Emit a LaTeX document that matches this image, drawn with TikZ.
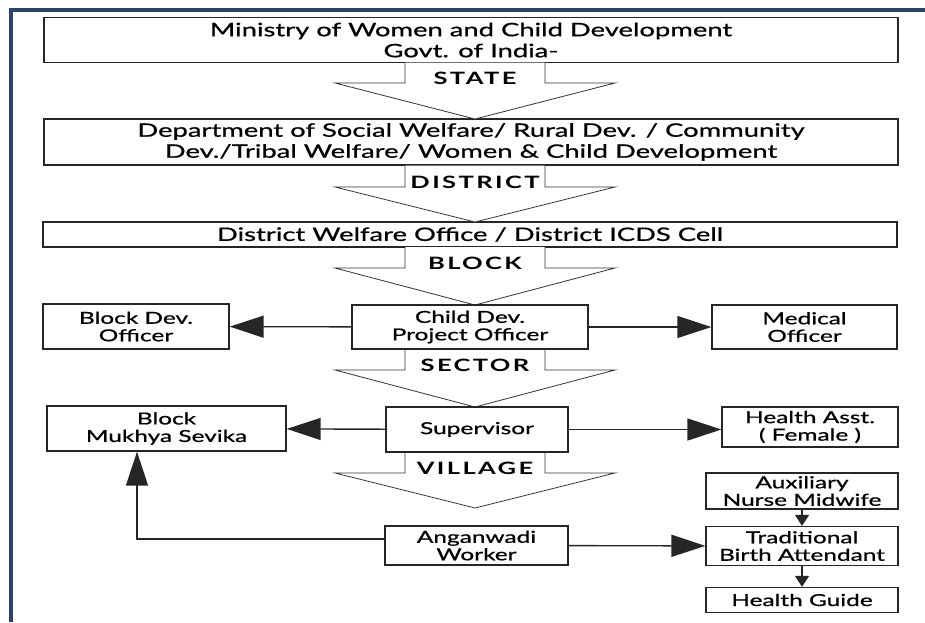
\documentclass[tikz,border=0pt]{standalone}
\usepackage{fontspec}
\setmainfont{Lato}[FakeStretch=1.48,FakeBold=0.8]
\newfontfamily\levelfont{Lato}[FakeStretch=1.5,LetterSpace=14]
\usetikzlibrary{
  arrows.meta, % For arrow tips
  calc % For coordinate calculations
}
\definecolor{framecol}{HTML}{2B4466}

\begin{document}
\begin{tikzpicture}[
      x=1pt, y=-1pt, % one unit = one pixel of the sheet
      office/.style={draw=black!85, line width=1.3pt, align=center, inner sep=0pt,
        font=\fontsize{16.5}{17.5}\selectfont},
      bigoffice/.style={office, minimum width=854pt, font=\fontsize{18.5}{21}\selectfont},
      levelarrow/.style={draw=black!80, line width=0.8pt, fill=white},
      level/.style={font=\levelfont\bfseries\fontsize{17}{17}\selectfont, inner sep=0pt},
      link/.style={draw=black!85, line width=1.4pt, -{Triangle[length=34pt,width=22pt]}},
      smalllink/.style={draw=black!85, line width=1.4pt, -{Triangle[length=11pt,width=14pt]}},
    ]

    \useasboundingbox (0,0) rectangle (925,622);

    % Rahmen oben und links
    \fill[framecol] (9,8) rectangle (925,12);
    \fill[framecol] (9,8) rectangle (12.5,622);

    % Hohlpfeil: stem top y, head y, tip y, label
    \def\hollow#1#2#3#4{%
      \draw[levelarrow] (405,#1) -- (405,#2) -- (335,#2) -- (475,#3)
        -- (615,#2) -- (545,#2) -- (545,#1);
      \node[level, anchor=base] at (475,#2+1) {#4};
    }

    % Ebenen
    \node[bigoffice, minimum height=45pt] (ministry) at (471,40)
      {Ministry of Women and Child Development\\Govt. of India-};
    \node[bigoffice, minimum height=46pt] (dept) at (471,142)
      {Department of Social Welfare/ Rural Dev. / Community\\Dev./Tribal Welfare/ Women \& Child Development};
    \node[bigoffice, minimum height=25pt] (dwo) at (470,234.5)
      {District Welfare Office / District ICDS Cell};

    \hollow{62.5}{83}{119}{STATE}
    \hollow{165.5}{187}{222}{DISTRICT}
    \hollow{247}{268}{305}{BLOCK}
    \hollow{349}{370}{407}{SECTOR}
    \hollow{452}{473}{508}{VILLAGE}

    % Block
    \node[office, minimum width=236pt, minimum height=44pt] (cdpo) at (470,327)
      {Child Dev.\\Project Officer};
    \node[office, minimum width=186pt, minimum height=45pt] (bdo) at (136,326.5)
      {Block Dev.\\Officer};
    \node[office, minimum width=185pt, minimum height=44pt] (mo) at (804.5,327)
      {Medical\\Officer};

    % Sektor
    \node[office, minimum width=182pt, minimum height=45pt] (sup) at (477,429.5)
      {Supervisor};
    \node[office, minimum width=239pt, minimum height=45pt] (bms) at (166.5,428.5)
      {Block\\Mukhya Sevika};
    \node[office, minimum width=176pt, minimum height=40pt] (ha) at (810,427)
      {Health Asst.\\( Female )};

    % Dorf
    \node[office, minimum width=183pt, minimum height=39pt] (aww) at (476.5,545.5)
      {Anganwadi\\Worker};
    \node[office, minimum width=192pt, minimum height=36pt] (anm) at (802,491)
      {Auxiliary\\Nurse Midwife};
    \node[office, minimum width=192pt, minimum height=39pt] (tba) at (802,546)
      {Traditional\\Birth Attendant};
    \node[office, minimum width=192pt, minimum height=25pt] (hg) at (802,600)
      {Health Guide};

    % Verbindungen
    \draw[link] (cdpo) -- (bdo);
    \draw[link] (cdpo) -- (mo);
    \draw[link] (sup) -- (bms);
    \draw[link] (sup.east) -- (ha.west |- sup.east);
    \draw[link] ([yshift=6.5pt]aww.west) -| ([xshift=-29.5pt]bms.south);
    \draw[link] (aww) -- (tba);
    \draw[smalllink] (anm) -- (tba);
    \draw[smalllink] (tba) -- (hg);

  \end{tikzpicture}
\end{document}
